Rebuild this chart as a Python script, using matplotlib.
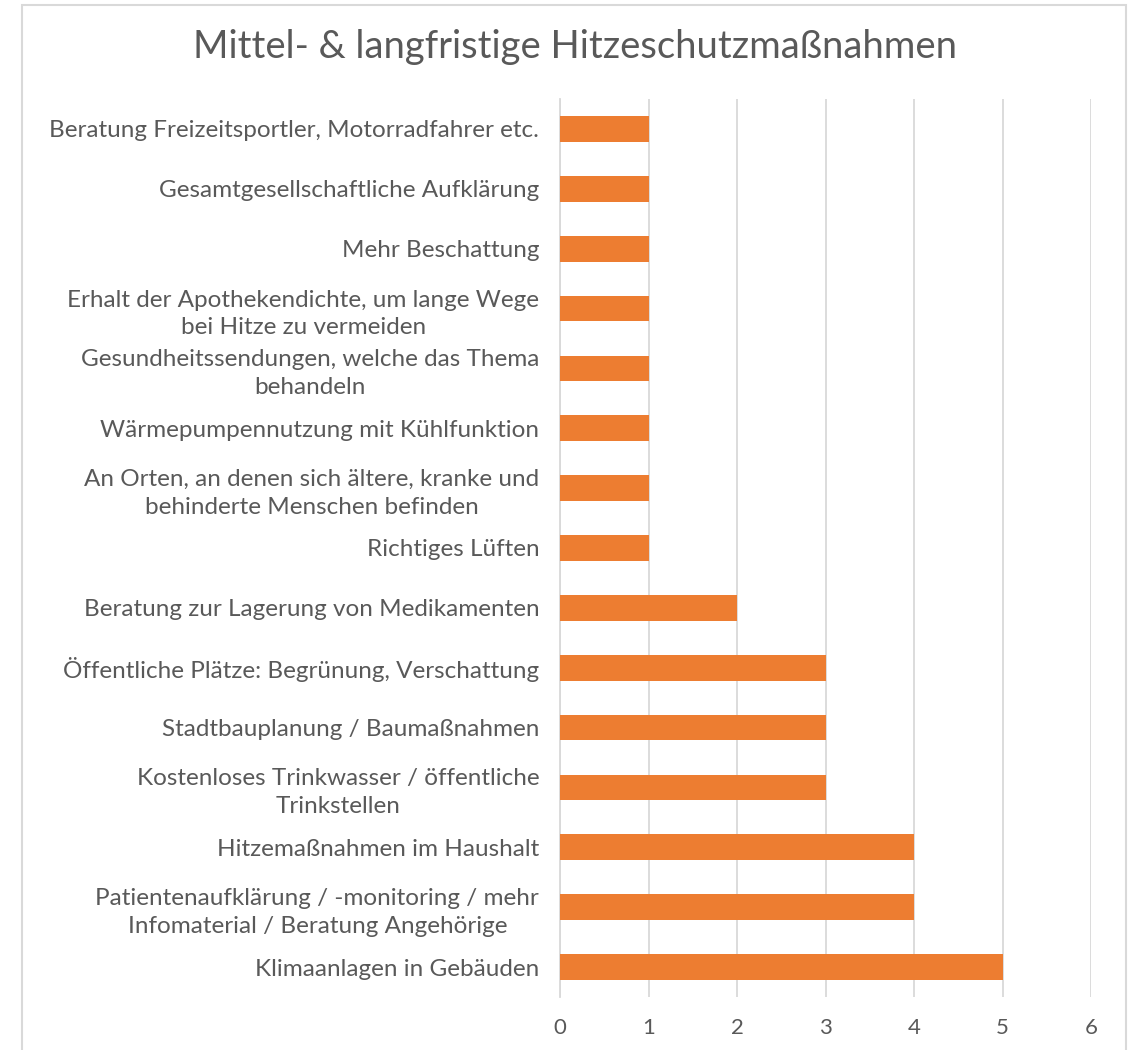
import matplotlib.pyplot as plt
from matplotlib.patches import Rectangle

TITLE = "Mittel- & langfristige Hitzeschutzmaßnahmen"

# bottom to top, as drawn
categories = [
    "Klimaanlagen in Gebäuden",
    "Patientenaufklärung / -monitoring / mehr\nInfomaterial / Beratung Angehörige",
    "Hitzemaßnahmen im Haushalt",
    "Kostenloses Trinkwasser / öffentliche\nTrinkstellen",
    "Stadtbauplanung / Baumaßnahmen",
    "Öffentliche Plätze: Begrünung, Verschattung",
    "Beratung zur Lagerung von Medikamenten",
    "Richtiges Lüften",
    "An Orten, an denen sich ältere, kranke und\nbehinderte Menschen befinden",
    "Wärmepumpennutzung mit Kühlfunktion",
    "Gesundheitssendungen, welche das Thema\nbehandeln",
    "Erhalt der Apothekendichte, um lange Wege\nbei Hitze zu vermeiden",
    "Mehr Beschattung",
    "Gesamtgesellschaftliche Aufklärung",
    "Beratung Freizeitsportler, Motorradfahrer etc.",
]
values = [5, 4, 4, 3, 3, 3, 2, 1, 1, 1, 1, 1, 1, 1, 1]
xticks = [0, 1, 2, 3, 4, 5, 6]

BAR = "#ED7D31"
TEXT = "#595959"
GRID = "#D9D9D9"

plt.rcParams['font.family'] = ['Lato', 'DejaVu Sans']

fig = plt.figure(figsize=(11.32, 10.5), dpi=100)
ax = fig.add_axes([0.4947, 0.0505, 0.4691, 0.8552])

y = list(range(len(categories)))
ax.barh(y, values, height=0.43, color=BAR, zorder=3)

ax.set_xlim(0, 6)
ax.set_ylim(-0.5, len(categories) - 0.5)
ax.set_xticks(xticks)
ax.set_yticks(y)
ax.set_yticklabels(categories, multialignment='center', linespacing=1.38)
ax.tick_params(axis='y', length=0, pad=15, labelsize=17.5, labelcolor=TEXT)
ax.tick_params(axis='x', length=0, pad=15, labelsize=16, labelcolor=TEXT)

ax.grid(axis='x', color=GRID, linewidth=1.3, zorder=0)
for s in ['top', 'right', 'bottom']:
    ax.spines[s].set_visible(False)
ax.spines['left'].set_color(GRID)
ax.spines['left'].set_linewidth(1.3)

fig.text(0.508, 0.955, TITLE, ha='center', va='center', fontsize=27.5, color=TEXT)

# chart area border
fig.patches.append(Rectangle((22 / 1132, -0.01), (1126 - 22) / 1132, 1 - 5 / 1050 + 0.01,
                             transform=fig.transFigure, fill=False,
                             edgecolor=GRID, linewidth=1.5))

fig.savefig("out.png", dpi=100)
